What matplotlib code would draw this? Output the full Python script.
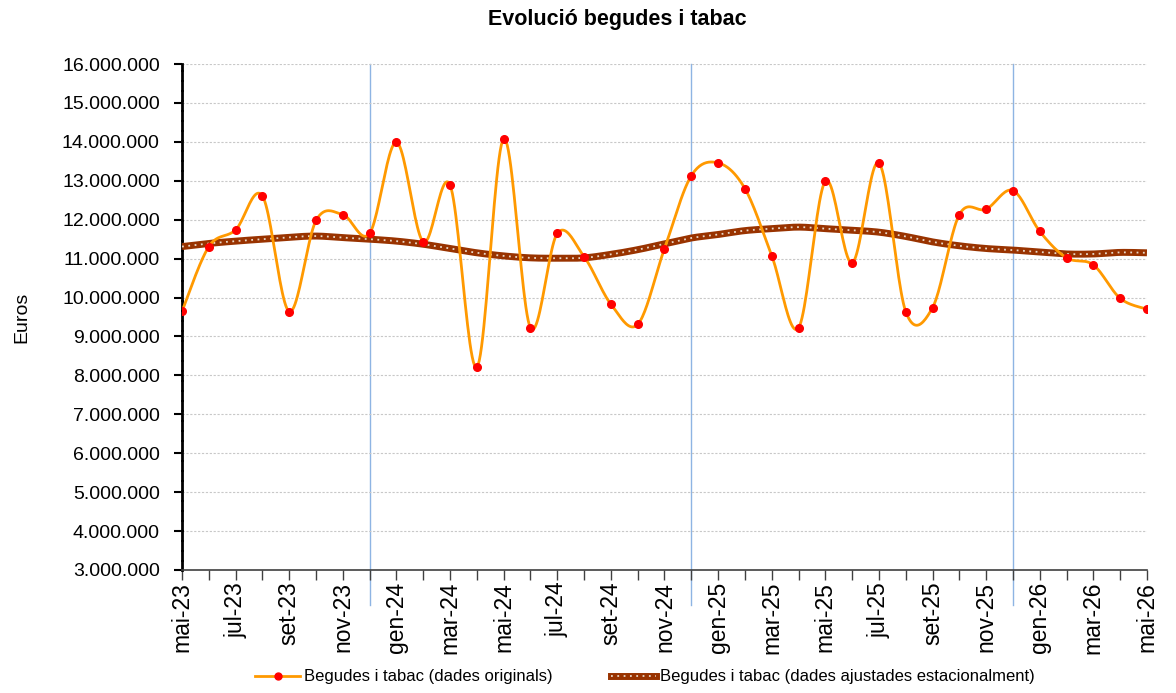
import numpy as np
import matplotlib
matplotlib.use("Agg")
from matplotlib import pyplot as plt
from matplotlib.lines import Line2D
from matplotlib.ticker import FuncFormatter, MultipleLocator

plt.rcParams['font.family'] = ['Liberation Sans', 'DejaVu Sans']

# Months (mai-23 .. mai-26)
months = ['mai-23', 'jun-23', 'jul-23', 'ago-23', 'set-23', 'oct-23', 'nov-23', 'des-23',
          'gen-24', 'feb-24', 'mar-24', 'abr-24', 'mai-24', 'jun-24', 'jul-24', 'ago-24',
          'set-24', 'oct-24', 'nov-24', 'des-24', 'gen-25', 'feb-25', 'mar-25', 'abr-25',
          'mai-25', 'jun-25', 'jul-25', 'ago-25', 'set-25', 'oct-25', 'nov-25', 'des-25',
          'gen-26', 'feb-26', 'mar-26', 'abr-26', 'mai-26']

# Original data (milions d'euros)
originals = [9.65, 11.31, 11.74, 12.61, 9.64, 11.98, 12.13, 11.65,
             13.99, 11.43, 12.89, 8.21, 14.08, 9.22, 11.65, 11.05,
             9.83, 9.31, 11.26, 13.13, 13.46, 12.80, 11.08, 9.22,
             12.99, 10.89, 13.46, 9.64, 9.74, 12.13, 12.27, 12.75,
             11.70, 11.02, 10.84, 9.98, 9.70]

# Seasonally adjusted data (milions d'euros)
adjusted = [11.31, 11.39, 11.45, 11.50, 11.55, 11.58, 11.54, 11.50,
            11.45, 11.37, 11.26, 11.15, 11.07, 11.02, 11.01, 11.02,
            11.11, 11.23, 11.38, 11.53, 11.62, 11.72, 11.77, 11.81,
            11.77, 11.73, 11.68, 11.57, 11.43, 11.33, 11.26, 11.22,
            11.17, 11.12, 11.12, 11.16, 11.15]

originals = np.array(originals) * 1e6
adjusted = np.array(adjusted) * 1e6
x = np.arange(len(months))

# year separators
separators = ['des-23', 'des-24', 'des-25']


def smooth(xs, ys, n=24):
    # Excel-like smoothed line (Bezier through the points)
    xs = np.asarray(xs, float)
    ys = np.asarray(ys, float)
    px = np.concatenate([[xs[0]], xs, [xs[-1]]])
    py = np.concatenate([[ys[0]], ys, [ys[-1]]])
    t = np.linspace(0, 1, n)[:, None]
    outx, outy = [], []
    for i in range(1, len(xs)):
        p0 = np.array([px[i], py[i]])
        p3 = np.array([px[i + 1], py[i + 1]])
        c1 = p0 + (p3 - np.array([px[i - 1], py[i - 1]])) / 6
        c2 = p3 - (np.array([px[i + 2], py[i + 2]]) - p0) / 6
        seg = ((1 - t) ** 3) * p0 + 3 * ((1 - t) ** 2) * t * c1 + 3 * (1 - t) * t ** 2 * c2 + t ** 3 * p3
        outx.append(seg[:, 0])
        outy.append(seg[:, 1])
    return np.concatenate(outx), np.concatenate(outy)


fig = plt.figure(figsize=(11.76, 6.93), dpi=100)
ax = fig.add_axes([0.1548, 0.1775, 0.8205, 0.7301])

orange = '#FF9900'
brown = '#993300'

for s in separators:
    ax.axvline(months.index(s), ymin=-0.069, ymax=1.0, color='#8EB4E3', lw=1,
               clip_on=False, zorder=1)

sx, sy = smooth(x, adjusted)
ax.plot(sx, sy, color=brown, lw=5, solid_capstyle='butt', zorder=3)
ax.plot(sx, sy, color='#E8D8C8', lw=1.3, linestyle=(0, (1, 2.5)), zorder=4)

ox, oy = smooth(x, originals)
ax.plot(ox, oy, color=orange, lw=2, zorder=5)
ax.plot(x, originals, 'o', color='#FF0000', ms=5.5, zorder=6)

ax.set_xlim(0, len(months) - 1)
ax.set_ylim(3e6, 16e6)
ax.yaxis.set_major_locator(MultipleLocator(1e6))
ax.yaxis.set_major_formatter(FuncFormatter(lambda v, p: f'{int(v):,}'.replace(',', '.')))
ax.grid(axis='y', color='#C8C8C8', lw=0.8, linestyle=(0, (2, 1.5)), zorder=0)

ax.set_xticks(x[::2])
ax.set_xticklabels(months[::2], rotation=90, fontsize=16.5)
ax.set_xticks(x, minor=True)
ax.tick_params(axis='x', which='both', direction='out', length=7, width=1,
               color='#404040', pad=1.5)
ax.tick_params(axis='y', direction='out', length=6, width=1.5, labelsize=14, pad=10)

for side in ['top', 'right']:
    ax.spines[side].set_visible(False)
ax.spines['bottom'].set_color('#404040')
ax.spines['bottom'].set_linewidth(1.2)
ax.spines['left'].set_color('black')
ax.spines['left'].set_linewidth(2)
ax.spines['left'].set_linestyle((0, (3, 0.6)))

fig.text(0.525, 1 - 20 / 693, 'Evolució begudes i tabac', ha='center', va='center',
         fontsize=15.5, fontweight='bold')
fig.text(22 / 1176, 0.5425, 'Euros', rotation=90, ha='center', va='center', fontsize=14)

h1 = Line2D([], [], color=orange, lw=2, marker='o', markerfacecolor='#FF0000',
            markeredgecolor='#FF0000', ms=5)
h2a = Line2D([], [], color=brown, lw=5)
h2b = Line2D([], [], color='#E8D8C8', lw=1.3, linestyle=(0, (1, 2.5)))
fig.legend([h1, (h2a, h2b)],
           ['Begudes i tabac (dades originals)',
            'Begudes i tabac (dades ajustades estacionalment)'],
           loc='center', bbox_to_anchor=(0.5485, 1 - 677 / 693), ncol=2, frameon=False,
           fontsize=12, handlelength=2.7, handletextpad=0.25, columnspacing=3.5,
           borderpad=0, borderaxespad=0)

fig.savefig('out.png', dpi=100)
